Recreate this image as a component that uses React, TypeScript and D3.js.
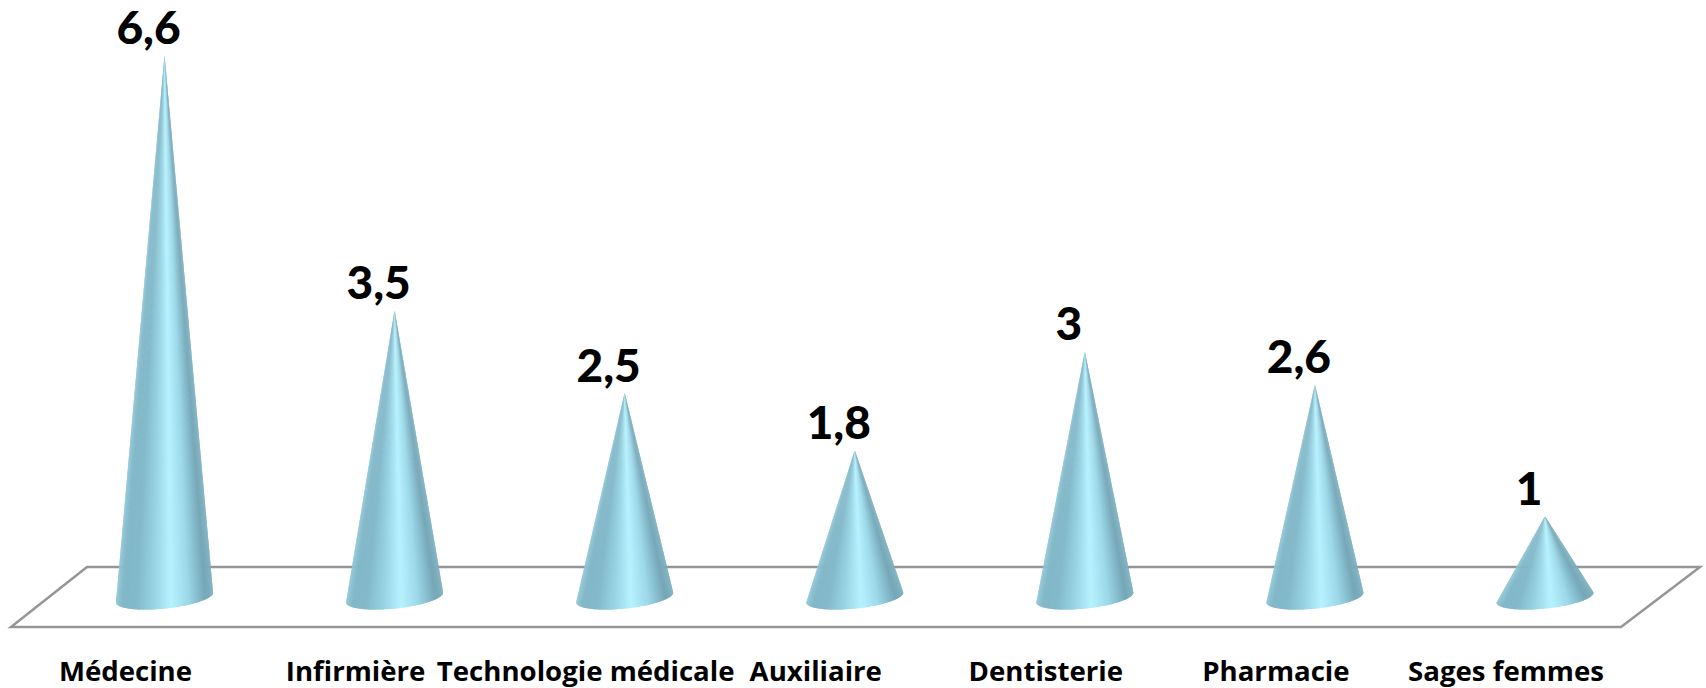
import React from "react";
import * as d3 from "d3";

const categories = ["Médecine", "Infirmière", "Technologie médicale", "Auxiliaire", "Dentisterie", "Pharmacie", "Sages femmes"];
const values = [6.6, 3.5, 2.5, 1.8, 3, 2.6, 1];
const valueLabels = ["6,6", "3,5", "2,5", "1,8", "3", "2,6", "1"];

const W = 1706, H = 688;
const x = d3.scalePoint<string>().domain(categories).range([164.5, 1545]);
const y = d3.scaleLinear().domain([0, 6.6]).range([598.5, 55]);
const RX = 48.8, RY = 11, TILT = (-6 * Math.PI) / 180;
const BASE_OFFSET = -1;
const SLICES = 120;

// shade across the visible width of the cone, left (0) to right (1)
const shade = d3.scaleLinear<string>()
  .domain([0, 0.06, 0.2, 0.38, 0.56, 0.74, 0.92, 1])
  .range(["#8fc6d6", "#82b8c8", "#83b9ca", "#98d3e3", "#b6f2fe", "#9cd8e8", "#75a7b7", "#7cb0c0"])
  .interpolate(d3.interpolateRgb);

function basePoint(cx: number, u: number): [number, number] {
  // u from 0 (left tip) to 1 (right tip) over the near half of the ellipse
  const a = Math.PI * (1 - u);
  const ex = RX * Math.cos(a), ey = RY * Math.sin(a);
  return [
    cx + ex * Math.cos(TILT) - ey * Math.sin(TILT),
    y(0) + BASE_OFFSET + ex * Math.sin(TILT) + ey * Math.cos(TILT),
  ];
}

function Cone({ cx, apexY }: { cx: number; apexY: number }) {
  const slices = d3.range(SLICES).map((k) => {
    const p0 = basePoint(cx, k / SLICES);
    const p1 = basePoint(cx, (k + 1) / SLICES);
    const p2 = basePoint(cx, Math.min(1, (k + 2) / SLICES));
    const t = (p0[0] - (cx - RX * Math.cos(TILT))) / (2 * RX * Math.cos(TILT));
    const d = d3.line()([[cx, apexY], p0, p1, p2]) + "Z";
    return <path key={k} d={d} fill={shade(t)} />;
  });
  return <g>{slices}</g>;
}

const floor = d3.line()([
  [11, 627], [87, 567], [1700, 567], [1621, 627],
]) + "Z";

export default function App() {
  return (
    <svg width={W} height={H} style={{ position: "absolute", left: 0, top: 0, display: "block" }}>
      <path d={floor} fill="#fff" stroke="#969696" strokeWidth={2.5} strokeLinejoin="miter" />
      {categories.map((c, i) => {
        const cx = x(c)!;
        return (
          <g key={c}>
            <Cone cx={cx} apexY={y(values[i])} />
            <text x={cx - 16} y={y(values[i]) - 11} textAnchor="middle"
              style={{ font: "900 46px Lato", fill: "#000" }}>{valueLabels[i]}</text>
            <text x={cx - 39} y={680.5} textAnchor="middle"
              style={{ font: "700 27.6px 'Open Sans'", fill: "#000" }}>{c}</text>
          </g>
        );
      })}
    </svg>
  );
}
